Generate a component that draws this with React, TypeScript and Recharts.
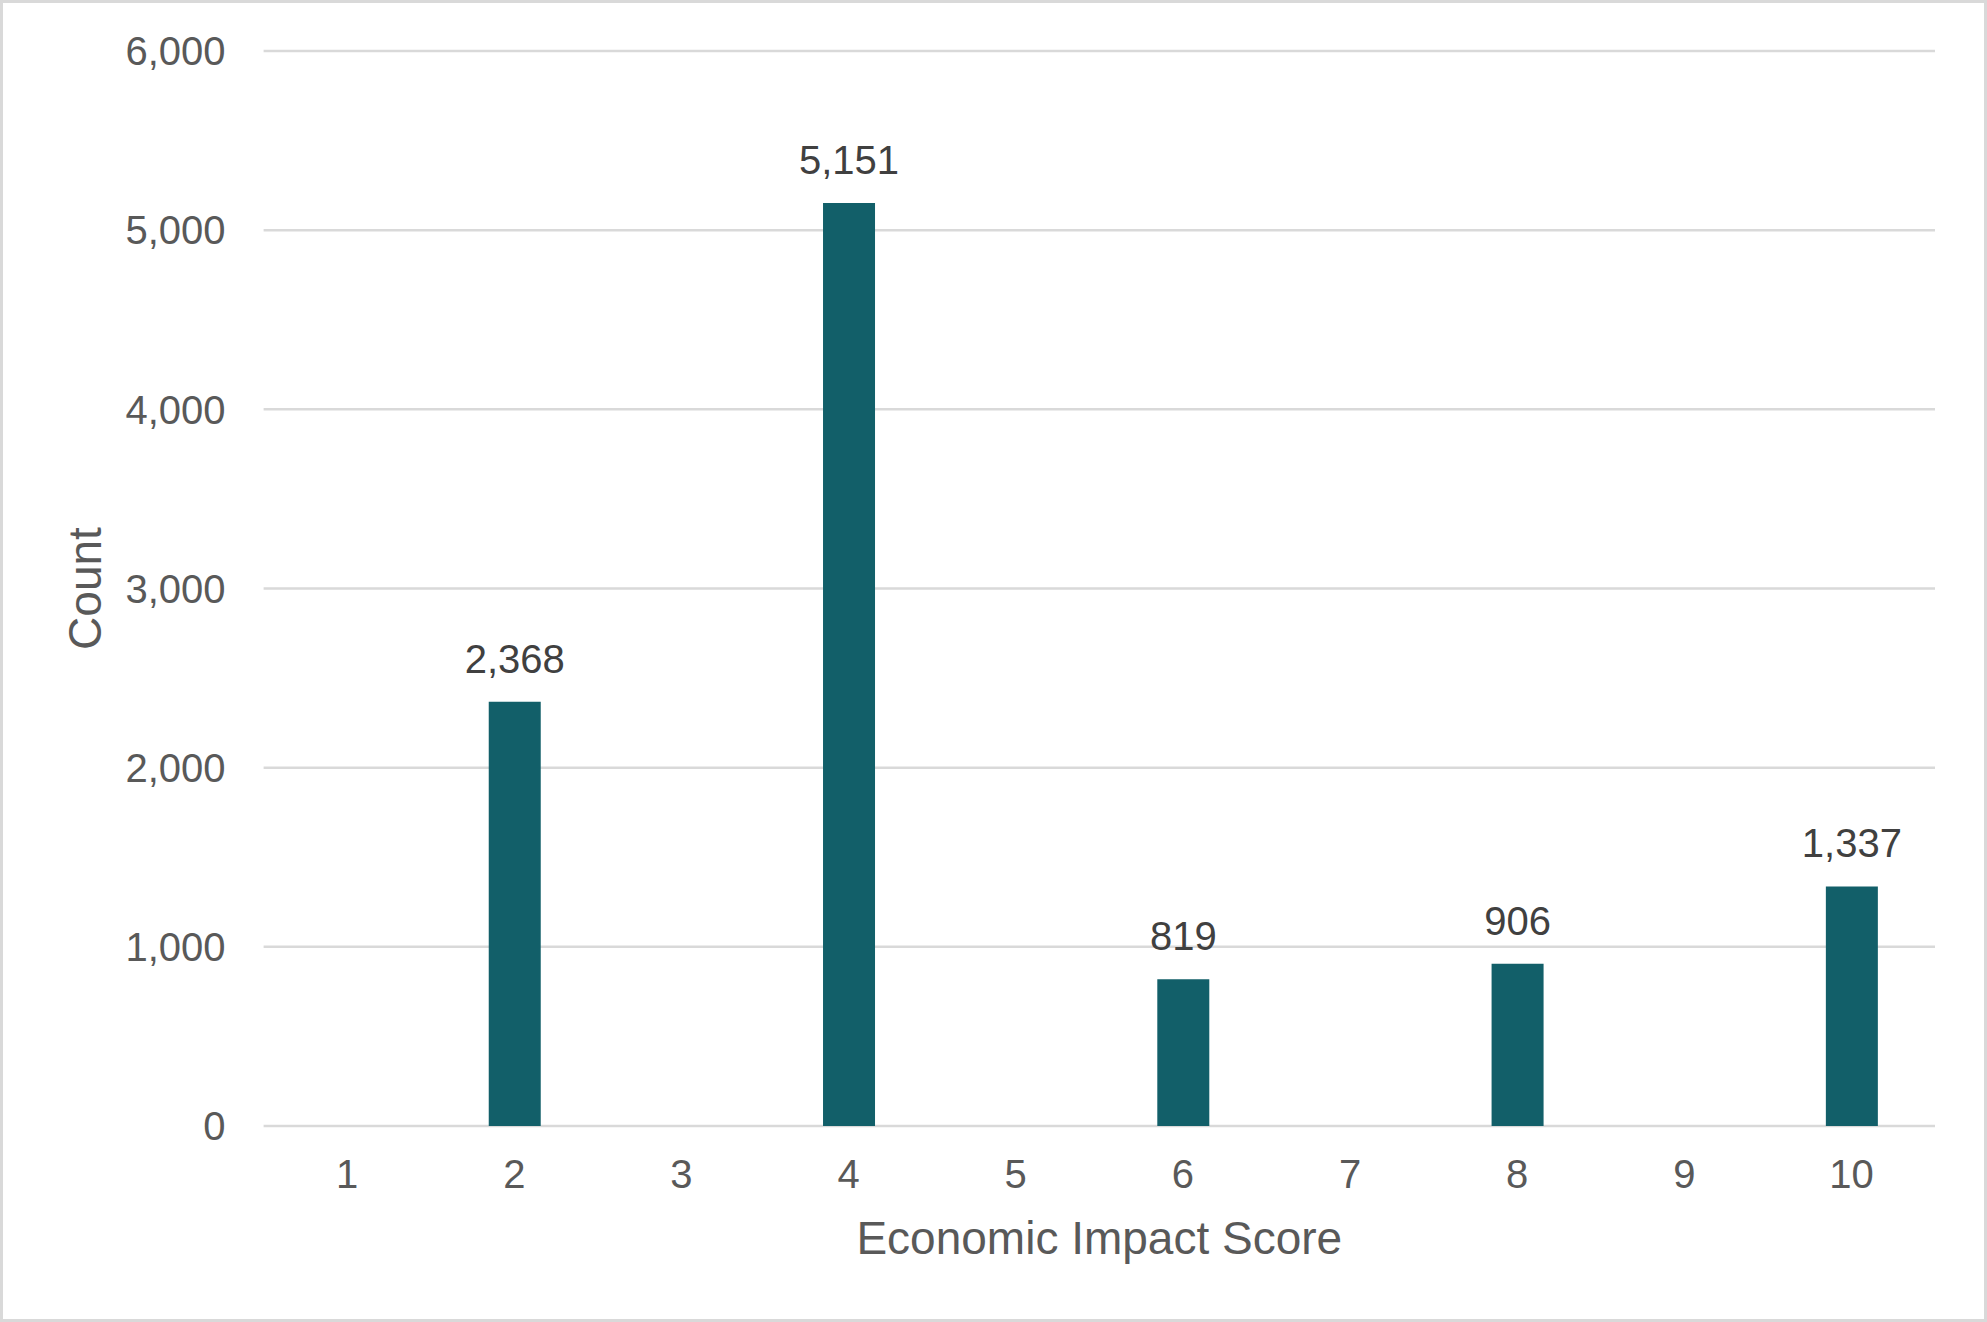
import { BarChart, Bar, XAxis, YAxis, CartesianGrid, LabelList, Label } from "recharts"

const scores = ["1", "2", "3", "4", "5", "6", "7", "8", "9", "10"]
const counts: (number | null)[] = [null, 2368, null, 5151, null, 819, null, 906, null, 1337]
const yTicks = [0, 1000, 2000, 3000, 4000, 5000, 6000]

const data = scores.map((score, i) => ({ score, count: counts[i] }))

const FONT = "'Liberation Sans', Arial, sans-serif"

const fmt = (v: unknown) => (v == null ? "" : Number(v).toLocaleString("en-US"))

export default function App() {
  return (
    <div
      style={{
        position: "absolute",
        top: 0,
        left: 0,
        width: 1987,
        height: 1322,
        boxSizing: "border-box",
        border: "3px solid #d9d9d9",
        background: "#ffffff",
        fontFamily: FONT,
      }}
    >
      <BarChart
        width={1981}
        height={1316}
        data={data}
        margin={{ top: 48, right: 49, bottom: 0, left: 140.6 }}
      >
        <CartesianGrid vertical={false} stroke="#d9d9d9" strokeWidth={2.5} />
        <XAxis
          dataKey="score"
          height={193}
          axisLine={false}
          tickLine={false}
          tickSize={0}
          tickMargin={34}
          tick={{ fontSize: 40, fill: "#595959", fontFamily: FONT }}
          interval={0}
        >
          <Label
            value="Economic Impact Score"
            position="center"
            dy={15}
            style={{ fontSize: 46, fill: "#595959", fontFamily: FONT }}
          />
        </XAxis>
        <YAxis
          width={120}
          domain={[0, 6000]}
          ticks={yTicks}
          axisLine={false}
          tickLine={false}
          tickSize={0}
          tickMargin={38}
          tickFormatter={(v) => Number(v).toLocaleString("en-US")}
          tick={{ fontSize: 40, fill: "#595959", fontFamily: FONT }}
        >
          <Label
            value="Count"
            position="center"
            angle={-90}
            dx={-118.6}
            style={{ fontSize: 46, fill: "#595959", fontFamily: FONT, textAnchor: "middle" }}
          />
        </YAxis>
        <Bar dataKey="count" fill="#125f69" barSize={52} isAnimationActive={false}>
          <LabelList
            dataKey="count"
            position="top"
            offset={29}
            formatter={fmt}
            style={{ fontSize: 40, fill: "#404040", fontFamily: FONT }}
          />
        </Bar>
      </BarChart>
    </div>
  )
}
